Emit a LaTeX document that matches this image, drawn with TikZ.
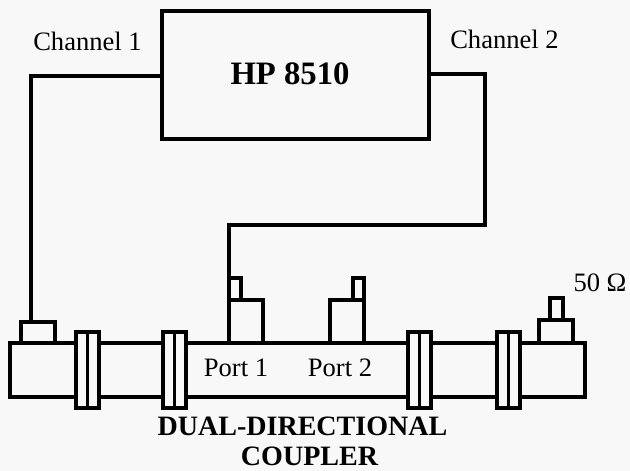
\documentclass[tikz,border=0pt]{standalone}
\usepackage{fontspec}
\setmainfont{Liberation Serif}
\definecolor{papier}{gray}{0.973}
\newcommand{\texte}[0]{\fontsize{25.2}{30}\selectfont}
\newcommand{\gras}[0]{\fontsize{26.6}{31}\selectfont\bfseries}
\newcommand{\bloc}[5]{\node[piece, minimum width=#4cm/30, minimum height=#5cm/30] (#1) at (#2,#3) {}}
\newcommand{\bride}[2]{\node[piece, minimum width=23cm/30, minimum height=76cm/30] (#1) at (#2,332) {};
 	\draw[fil] (#1.north) -- (#1.south)}
\tikzset{
	piece/.style = {draw, fill=papier, line width=3.8pt, anchor=north west, inner sep=0, outer sep=0},
	fil/.style = {line width=3.6pt, line join=miter},
	etiq/.style = {inner sep=0, font=\texte}
}

\begin{document}
\begin{tikzpicture}[x=1cm/30, y=-1cm/30]
	\fill[papier] (0,0) rectangle (630,471);
	\useasboundingbox (0,0) rectangle (630,471);
%The analyser
	\node[piece, line width=4.4pt, minimum width=267cm/30, minimum height=128cm/30] (hp) at (162,11) {};
	\node[font=\fontsize{31}{36}\selectfont\bfseries, inner sep=0] (hptxt) at (290,74) {HP 8510};
	\node[etiq] (ch1txt) at (87.5,41) {Channel 1};
	\node[etiq] (ch2txt) at (504.5,39) {Channel 2};
%The tube and the flanges
	\bloc{tube}{10}{343}{575}{54};
	\bride{brA}{76};
	\bride{brB}{163};
	\bride{brC}{408};
	\bride{brD}{497};
%Left cap
	\bloc{capL}{21}{322}{34}{21};
%The two ports
	\bloc{portA}{229}{300}{34}{43};
	\bloc{stubA}{229}{278}{12}{22};
	\bloc{portB}{330}{300}{34}{43};
	\bloc{stubB}{353}{278}{11}{22};
%Right cap
	\bloc{capR}{539}{320}{34}{23};
	\bloc{stubR}{550}{298}{13}{22};
%Cables
	\coordinate (ch1out) at (hp.west |- 0,76);
	\coordinate (ch1in) at (31,322);
	\coordinate (ch2out) at (hp.east |- 0,74);
	\coordinate (ch2bend) at (485,225);
	\draw[fil, line width=4pt] (ch1out) -| (ch1in);
	\draw[fil, line width=4pt] (ch2out) -| (ch2bend) -| (stubA.north west);
%Labels
	\node[etiq] (p1txt) at (236,368) {Port 1};
	\node[etiq] (p2txt) at (340,368) {Port 2};
	\node[etiq] (ohm) at (600,283) {50 Ω};
	\node[font=\gras, inner sep=0] (dualtxt) at (302.5,426) {DUAL-DIRECTIONAL};
	\node[font=\gras, inner sep=0] (couptxt) at (309.5,456) {COUPLER};
\end{tikzpicture}
\end{document}
